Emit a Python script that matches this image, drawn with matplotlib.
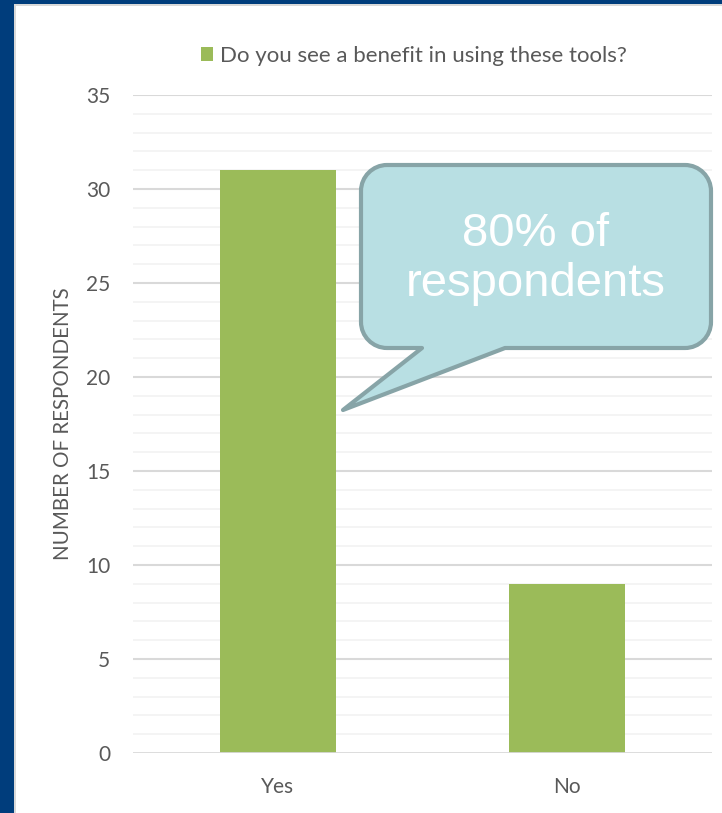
import numpy as np
import matplotlib.pyplot as plt
from matplotlib.patches import Rectangle, PathPatch
from matplotlib.path import Path

categories = ["Yes", "No"]
counts = [31, 9]
legend_label = "Do you see a benefit in using these tools?"
y_label = "NUMBER OF RESPONDENTS"
callout_text = "80% of\nrespondents"

W, H = 722, 813
fig = plt.figure(figsize=(W / 100, H / 100), dpi=100)
fig.patch.set_facecolor("white")

def px(x, y):
    # pixel coords (top-left origin) -> figure fraction
    return x / W, 1 - y / H

# --- frame: dark blue strip on the left and top ---
fig.patches.append(Rectangle((0, 0), 14 / W, 1, transform=fig.transFigure,
                             facecolor="#003D7C", edgecolor="none", zorder=0))
fig.patches.append(Rectangle((0, 1 - 4 / H), 1, 4 / H, transform=fig.transFigure,
                             facecolor="#003D7C", edgecolor="none", zorder=0))
fig.patches.append(Rectangle((14 / W, 0), 2 / W, 1 - 4 / H, transform=fig.transFigure,
                             facecolor="#D9D9D9", edgecolor="none", zorder=0))
fig.patches.append(Rectangle((14 / W, 1 - 6 / H), 1, 2 / H, transform=fig.transFigure,
                             facecolor="#D9D9D9", edgecolor="none", zorder=0))

# --- axes ---
left, bottom = px(133, 753)
right, top = px(712, 95)
ax = fig.add_axes([left, bottom, right - left, top - bottom])
x = np.arange(len(categories))
ax.set_xlim(-0.5, len(categories) - 0.5)
ax.set_ylim(0, 35)

for v in range(1, 36):
    major = v % 5 == 0
    ax.axhline(v, color="#D9D9D9" if major else "#F2F2F2",
               lw=1.5 if major else 1.2, zorder=0)
ax.axhline(0, color="#D9D9D9", lw=2, zorder=3)

bars = ax.bar(x, counts, width=0.4, color="#9BBB59", zorder=2,
              label=legend_label)

for s in ax.spines.values():
    s.set_visible(False)
ax.set_xticks(x)
ax.set_xticklabels(categories)
ax.set_yticks(range(0, 36, 5))
ax.tick_params(length=0, labelsize=15, colors="#595959")
ax.tick_params(axis="y", pad=16.5)
ax.tick_params(axis="x", pad=17)
for t in ax.get_xticklabels() + ax.get_yticklabels():
    t.set_fontfamily("Lato")
ax.set_ylabel(y_label, fontsize=14.8, color="#595959", family="Lato")
ax.yaxis.set_label_coords((73 - 133) / 579, 0.5)

leg = fig.legend(handles=[bars], labels=[legend_label], loc="center",
                 bbox_to_anchor=px(414, 56), frameon=False, handlelength=0.55,
                 handleheight=0.55, handletextpad=0.3,
                 prop={"family": "Lato", "size": 16})
for t in leg.get_texts():
    t.set_color("#595959")

# --- speech bubble callout ---
x0, x1, y0, y1, r = 361, 711, 165, 348, 26
tail_a, tail_b, tip = (422, 348), (505, 348), (343, 410)
k = 0.45
verts = [
    (x0 + r, y0), (x1 - r, y0),
    (x1 - r * k, y0), (x1, y0 + r * k), (x1, y0 + r),
    (x1, y1 - r),
    (x1, y1 - r * k), (x1 - r * k, y1), (x1 - r, y1),
    tail_b, tip, tail_a,
    (x0 + r, y1),
    (x0 + r * k, y1), (x0, y1 - r * k), (x0, y1 - r),
    (x0, y0 + r),
    (x0, y0 + r * k), (x0 + r * k, y0), (x0 + r, y0),
    (x0 + r, y0),
]
codes = [Path.MOVETO, Path.LINETO,
         Path.CURVE4, Path.CURVE4, Path.CURVE4,
         Path.LINETO,
         Path.CURVE4, Path.CURVE4, Path.CURVE4,
         Path.LINETO, Path.LINETO, Path.LINETO, Path.LINETO,
         Path.CURVE4, Path.CURVE4, Path.CURVE4,
         Path.LINETO,
         Path.CURVE4, Path.CURVE4, Path.CURVE4,
         Path.CLOSEPOLY]
bubble = Path([px(*v) for v in verts], codes)
fig.patches.append(PathPatch(bubble, transform=fig.transFigure,
                             facecolor="#B8DFE3", edgecolor="#87A4A7",
                             lw=3, joinstyle="round", zorder=5))
fig.text(*px(536, 259), callout_text, ha="center", va="center",
         color="white", fontsize=34, family="Liberation Sans",
         linespacing=1.15, zorder=6)

fig.savefig("out.png", dpi=100)
